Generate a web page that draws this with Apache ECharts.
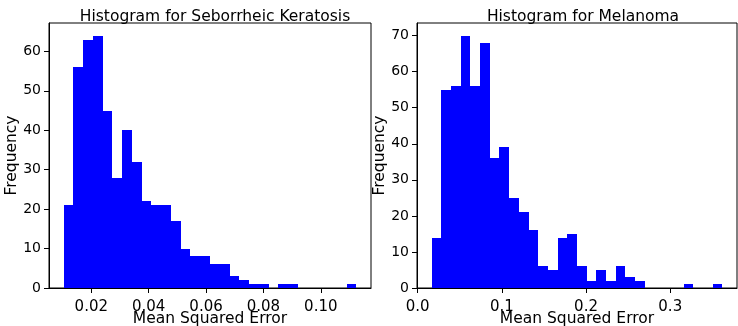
<!DOCTYPE html>
<html>
<head>
<meta charset="utf-8">
<script src="https://cdn.jsdelivr.net/npm/echarts@6/dist/echarts.min.js"></script>
<style>
  html, body { margin: 0; padding: 0; background: #fff; }
  #chart { width: 738px; height: 326px; }
</style>
</head>
<body>
<div id="chart"></div>
<script>
// histogram counts, 30 equal bins each
const sebCounts = [21, 56, 63, 64, 45, 28, 40, 32, 22, 21, 21, 17, 10, 8, 8, 6, 6, 3, 2, 1, 1, 0, 1, 1, 0, 0, 0, 0, 0, 1];
const sebRange = [0.01035, 0.1124];
const melCounts = [14, 55, 56, 70, 56, 68, 36, 39, 25, 21, 16, 6, 5, 14, 15, 6, 2, 5, 2, 6, 3, 2, 0, 0, 0, 0, 1, 0, 0, 1];
const melRange = [0.0165, 0.362];

const sebXTicks = [0.02, 0.04, 0.06, 0.08, 0.10];
const sebYTicks = [0, 10, 20, 30, 40, 50, 60];
const melXTicks = [0.0, 0.1, 0.2, 0.3];
const melYTicks = [0, 10, 20, 30, 40, 50, 60, 70];

const titles = ['Histogram for Seborrheic Keratosis', 'Histogram for Melanoma'];
const xName = 'Mean Squared Error';
const yName = 'Frequency';

const font = 'DejaVu Sans';
const ink = '#000';

function bins(counts, range) {
  const w = (range[1] - range[0]) / counts.length;
  return counts.map((c, i) => [range[0] + i * w, range[0] + (i + 1) * w, c]);
}

function padRange(range, counts) {
  const span = range[1] - range[0];
  return { min: range[0] - span * 0.05, max: range[1] + span * 0.05, ymax: Math.max(...counts) * 1.05 };
}

const sebPad = padRange(sebRange, sebCounts);
const melPad = padRange(melRange, melCounts);

const chart = echarts.init(document.getElementById('chart'), null, { renderer: 'canvas' });

const axisCommon = {
  axisLine: { show: true, onZero: false, lineStyle: { color: ink, width: 1 } },
  axisTick: { show: true, inside: false, length: 5, lineStyle: { color: ink } },
  splitLine: { show: false },
  nameMoveOverlap: false,
  nameTextStyle: { fontFamily: font, fontSize: 15.5, color: ink }
};

function xAxis(grid, pad, ticks, digits) {
  return {
    ...axisCommon,
    type: 'value', gridIndex: grid, min: pad.min, max: pad.max,
    name: xName, nameLocation: 'middle', nameGap: 23,
    axisTick: { ...axisCommon.axisTick, customValues: ticks },
    axisLabel: {
      customValues: ticks, margin: 12, fontFamily: font, fontSize: 15, color: ink,
      formatter: (v) => v.toFixed(digits)
    }
  };
}

function yAxis(grid, pad, ticks) {
  return {
    ...axisCommon,
    type: 'value', gridIndex: grid, min: 0, max: pad.ymax,
    name: yName, nameLocation: 'middle', nameGap: 29, nameRotate: 90,
    axisTick: { ...axisCommon.axisTick, customValues: ticks },
    axisLabel: { customValues: ticks, margin: 8, fontFamily: font, fontSize: 14, color: ink }
  };
}

function histSeries(idx, data) {
  return {
    type: 'custom', xAxisIndex: idx, yAxisIndex: idx,
    data,
    encode: { x: [0, 1], y: 2 },
    renderItem: (params, api) => {
      const p0 = api.coord([api.value(0), 0]);
      const p1 = api.coord([api.value(1), api.value(2)]);
      // snap to whole pixels so neighbouring bins meet without seams
      const x0 = Math.round(p0[0]), x1 = Math.round(p1[0]);
      const yb = Math.round(p0[1]), yt = Math.round(p1[1]);
      return {
        type: 'rect',
        shape: { x: x0, y: yt, width: x1 - x0, height: yb - yt },
        style: { fill: '#0000ff' }
      };
    }
  };
}

const titleStyle = { fontFamily: font, fontSize: 15.5, fontWeight: 'normal', color: ink };
const gridCommon = { top: 23, height: 265, show: true, borderColor: ink, borderWidth: 1, backgroundColor: 'transparent', containLabel: false, outerBoundsMode: 'none' };

chart.setOption({
  animation: false,
  backgroundColor: '#fff',
  title: [
    { text: titles[0], left: 210, top: 4, textAlign: 'center', textStyle: titleStyle },
    { text: titles[1], left: 578, top: 4, textAlign: 'center', textStyle: titleStyle }
  ],
  grid: [
    { ...gridCommon, left: 49, width: 322 },
    { ...gridCommon, left: 417, width: 320 }
  ],
  xAxis: [xAxis(0, sebPad, sebXTicks, 2), xAxis(1, melPad, melXTicks, 1)],
  yAxis: [yAxis(0, sebPad, sebYTicks), yAxis(1, melPad, melYTicks)],
  series: [histSeries(0, bins(sebCounts, sebRange)), histSeries(1, bins(melCounts, melRange))]
});
</script>
</body>
</html>
